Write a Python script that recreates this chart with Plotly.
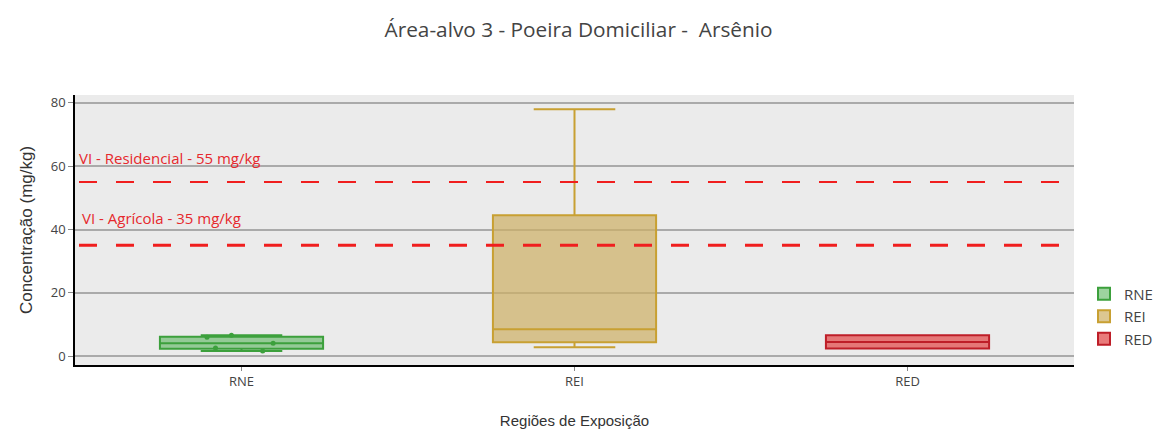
import plotly.graph_objects as go

# regiões de exposição
regions = ["RNE", "REI", "RED"]

# RNE: amostras individuais (mg/kg)
rne_values = [1.6, 2.6, 4.1, 6.0, 6.6]

# REI e RED: estatísticas do boxplot (mg/kg)
rei_stats = dict(lowerfence=[2.8], q1=[4.4], median=[8.5], q3=[44.5], upperfence=[78.0])
red_stats = dict(lowerfence=[2.4], q1=[2.4], median=[4.5], q3=[6.6], upperfence=[6.6])

# valores de intervenção
vi_labels = ["VI - Residencial - 55 mg/kg", "VI - Agrícola - 35 mg/kg"]
vi_values = [55, 35]

fig = go.Figure()

fig.add_trace(go.Box(
    y=rne_values, x=["RNE"] * len(rne_values), name="RNE",
    boxpoints="all", jitter=0.5, pointpos=0,
    marker=dict(color="rgb(60,160,60)", size=5),
    line=dict(color="rgb(60,160,60)", width=2),
    fillcolor="rgba(76,175,80,0.55)",
))
fig.add_trace(go.Box(
    x=["REI"], name="REI", **rei_stats,
    line=dict(color="rgb(200,160,50)", width=2),
    fillcolor="rgba(205,175,100,0.7)",
))
fig.add_trace(go.Box(
    x=["RED"], name="RED", **red_stats,
    line=dict(color="rgb(190,30,40)", width=2),
    fillcolor="rgba(228,90,90,0.8)",
))

widths = [2, 3]
for lab, val, w in zip(vi_labels, vi_values, widths):
    fig.add_shape(type="line", xref="paper", x0=0.004, x1=0.988, y0=val, y1=val,
                  line=dict(color="rgb(240,30,30)", width=w, dash="18px,19px"))

fig.add_annotation(x=0.002, xref="paper", y=62.6, text=vi_labels[0], showarrow=False,
                   xanchor="left", font=dict(color="rgb(230,40,45)", size=15))
fig.add_annotation(x=0.005, xref="paper", y=43.6, text=vi_labels[1], showarrow=False,
                   xanchor="left", font=dict(color="rgb(230,40,45)", size=15))

fig.update_layout(
    width=1162, height=430,
    margin=dict(l=67, r=93, t=87, b=73),
    paper_bgcolor="white", plot_bgcolor="rgb(235,235,235)",
    font=dict(family="Open Sans", size=13, color="#444"),
    title=dict(text="Área-alvo 3 - Poeira Domiciliar -  Arsênio", x=0.491, y=0.95,
               xanchor="center", yanchor="middle", font=dict(size=20.8, color="#444")),
    showlegend=True,
    legend=dict(x=1.01, y=0.18, yanchor="middle", font=dict(size=15), tracegroupgap=0),
    xaxis=dict(title=dict(text="Regiões de Exposição", standoff=26,
                          font=dict(size=15, family="Liberation Sans, Arial", color="#333")),
               categoryorder="array", categoryarray=regions,
               showline=True, linecolor="black", linewidth=1.5,
               ticks="outside", ticklen=4, tickcolor="#888", showgrid=False),
    yaxis=dict(title=dict(text="Concentração (mg/kg)", standoff=14,
                          font=dict(size=17, family="Liberation Sans, Arial", color="#333")),
               range=[-2.8, 82.5], tickvals=[0, 20, 40, 60, 80],
               showline=True, linecolor="black", linewidth=1.5,
               ticks="outside", ticklen=5, tickcolor="#888",
               gridcolor="rgb(170,170,170)", gridwidth=1.5, zeroline=False),
)

fig.write_html("out.html")
